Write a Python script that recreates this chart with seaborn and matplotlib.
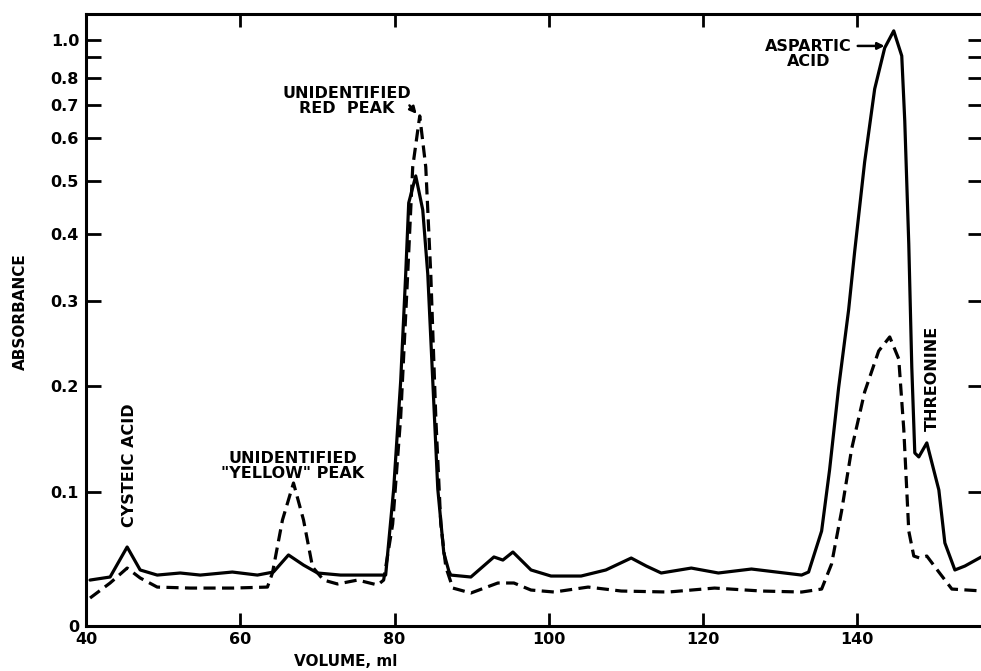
import numpy as np
import pandas as pd
import matplotlib
matplotlib.use("Agg")
import matplotlib.pyplot as plt
import seaborn as sns

# ---- data (volume in ml, absorbance) ----
solid_ml = [40.52, 43.12, 45.33, 47.02, 49.23, 52.21, 54.81, 58.97, 62.22, 64.30,
            66.25, 68.20, 70.02, 73.00, 77.81, 78.85, 79.89, 80.80, 81.45, 81.84,
            82.75, 83.66, 84.31, 84.96, 85.61, 86.39, 87.04, 87.30, 89.90, 92.89,
            94.05, 95.35, 97.70, 100.29, 104.19, 107.40, 110.69, 112.64, 114.58, 118.48,
            121.99, 126.28, 132.78, 133.69, 135.38, 136.41, 137.58, 138.88, 139.66, 140.96,
            142.26, 143.56, 144.73, 145.77, 146.16, 146.68, 147.07, 147.46, 147.98, 149.02,
            150.58, 151.36, 152.66, 153.96, 156.30]
solid_abs = [0.0318, 0.0340, 0.0562, 0.0391, 0.0354, 0.0369, 0.0354, 0.0376, 0.0354, 0.0376,
             0.0502, 0.0427, 0.0369, 0.0354, 0.0354, 0.0354, 0.1026, 0.2051, 0.3379, 0.4557,
             0.5104, 0.4425, 0.3379, 0.2051, 0.1026, 0.0517, 0.0384, 0.0354, 0.0340, 0.0487,
             0.0464, 0.0524, 0.0391, 0.0347, 0.0347, 0.0391, 0.0479, 0.0420, 0.0369, 0.0405,
             0.0369, 0.0398, 0.0354, 0.0376, 0.0685, 0.1190, 0.1976, 0.2886, 0.3711, 0.5418,
             0.7567, 0.9503, 1.0654, 0.9051, 0.6492, 0.3838, 0.2203, 0.1342, 0.1306, 0.1434,
             0.1018, 0.0593, 0.0391, 0.0420, 0.0494]

dashed_ml = [40.52, 43.12, 45.33, 47.02, 49.23, 53.51, 59.10, 63.52, 64.17, 65.47,
             66.90, 68.20, 69.37, 70.80, 72.61, 75.21, 77.81, 78.59, 79.76, 80.80,
             81.71, 82.36, 83.27, 84.05, 84.70, 85.35, 86.00, 86.65, 87.56, 89.90,
             93.40, 95.48, 97.69, 100.70, 105.10, 109.40, 115.50, 121.50, 127.60, 132.80,
             135.38, 136.67, 137.97, 139.27, 140.96, 142.78, 144.21, 145.38, 146.03, 146.68,
             147.33, 148.11, 149.02, 150.58, 152.27, 156.30]
dashed_abs = [0.0191, 0.0297, 0.0405, 0.0333, 0.0268, 0.0261, 0.0261, 0.0268, 0.0369, 0.0772,
              0.1077, 0.0772, 0.0413, 0.0318, 0.0290, 0.0318, 0.0283, 0.0318, 0.0740, 0.1682,
              0.3379, 0.5303, 0.6644, 0.5303, 0.3379, 0.1682, 0.0740, 0.0413, 0.0261, 0.0226,
              0.0297, 0.0297, 0.0247, 0.0233, 0.0268, 0.0240, 0.0233, 0.0261, 0.0240, 0.0233,
              0.0254, 0.0435, 0.0844, 0.1378, 0.1935, 0.2384, 0.2549, 0.2293, 0.1565, 0.0685,
              0.0494, 0.0479, 0.0494, 0.0376, 0.0254, 0.0240]

x_ticks = [40, 60, 80, 100, 120, 140]
x_ticklabels = ["40", "60", "80", "100", "120", "140"]
y_ticks = [0, 0.1, 0.2, 0.3, 0.4, 0.5, 0.6, 0.7, 0.8, 0.9, 1.0]
y_ticklabels = ["0", "0.1", "0.2", "0.3", "0.4", "0.5", "0.6", "0.7", "0.8", "", "1.0"]

df = pd.concat([
    pd.DataFrame({"ml": solid_ml, "abs": solid_abs, "trace": "solid"}),
    pd.DataFrame({"ml": dashed_ml, "abs": dashed_abs, "trace": "dashed"}),
])

sns.set_style("white")
plt.rcParams["font.family"] = ["DejaVu Sans"]
plt.rcParams["font.weight"] = "bold"
plt.rcParams["text.color"] = "black"
plt.rcParams["axes.labelcolor"] = "black"
plt.rcParams["xtick.color"] = "black"
plt.rcParams["ytick.color"] = "black"

fig = plt.figure(figsize=(9.81, 6.71), dpi=100)
ax = fig.add_axes([0.0877, 0.067, 0.9143, 0.912])

def fwd(a):
    return 1.0 - np.power(10.0, -np.asarray(a, dtype=float))

def inv(f):
    f = np.clip(np.asarray(f, dtype=float), -10, 0.999999)
    return -np.log10(1.0 - f)

ax.set_yscale("function", functions=(fwd, inv))

sns.lineplot(data=df[df.trace == "solid"], x="ml", y="abs", ax=ax, color="black",
             lw=2.3, sort=False, estimator=None, legend=False)
sns.lineplot(data=df[df.trace == "dashed"], x="ml", y="abs", ax=ax, color="black",
             lw=2.3, sort=False, estimator=None, legend=False)
ax.lines[1].set_dashes((3.8, 2.0))

ax.set_xlim(40, 156.3)
ax.set_ylim(0, 1.22)
ax.set_xticks(x_ticks)
ax.set_xticklabels(x_ticklabels)
ax.set_yticks(y_ticks)
ax.set_yticklabels(y_ticklabels)
ax.minorticks_off()

for s in ax.spines.values():
    s.set_linewidth(2.2)
    s.set_color("black")

ax.tick_params(axis="y", direction="in", length=11, width=2.0, pad=5,
               labelsize=11.5, right=True, left=True, colors="black")
ax.tick_params(axis="x", direction="in", length=9.5, width=2.0, pad=4,
               labelsize=11.5, top=True, bottom=True, colors="black")
for lab in ax.get_xticklabels() + ax.get_yticklabels():
    lab.set_fontweight("bold")

ax.set_xlabel("VOLUME, ml", fontsize=11, fontweight="bold", color="black")
ax.xaxis.set_label_coords(0.289, -0.045)
ax.set_ylabel("ABSORBANCE", fontsize=11, fontweight="bold", color="black")
ax.yaxis.set_label_coords(-0.065, 0.513)

tkw = dict(fontsize=11.5, fontweight="bold", color="black")
ax.text(45.6, 0.123, "CYSTEIC ACID", rotation=90, ha="center", va="center", **tkw)
ax.text(66.8, 0.1225, "UNIDENTIFIED\n\"YELLOW\" PEAK", ha="center", va="center",
        multialignment="center", linespacing=0.95, **tkw)
ax.text(73.8, 0.713, "UNIDENTIFIED\nRED  PEAK", ha="center", va="center",
        multialignment="center", linespacing=0.95, **tkw)
ax.annotate("", xy=(83.1, 0.664), xytext=(81.7, 0.705),
            arrowprops=dict(arrowstyle="-|>", color="black", lw=1.8, mutation_scale=10))
ax.text(133.7, 0.916, "ASPARTIC\nACID", ha="center", va="center",
        multialignment="center", linespacing=0.95, **tkw)
ax.annotate("", xy=(143.9, 0.962), xytext=(139.7, 0.962),
            arrowprops=dict(arrowstyle="-|>", color="black", lw=1.8, mutation_scale=10))
ax.text(149.7, 0.208, "THREONINE", rotation=90, ha="center", va="center", **tkw)

fig.savefig("out.png", dpi=100)
